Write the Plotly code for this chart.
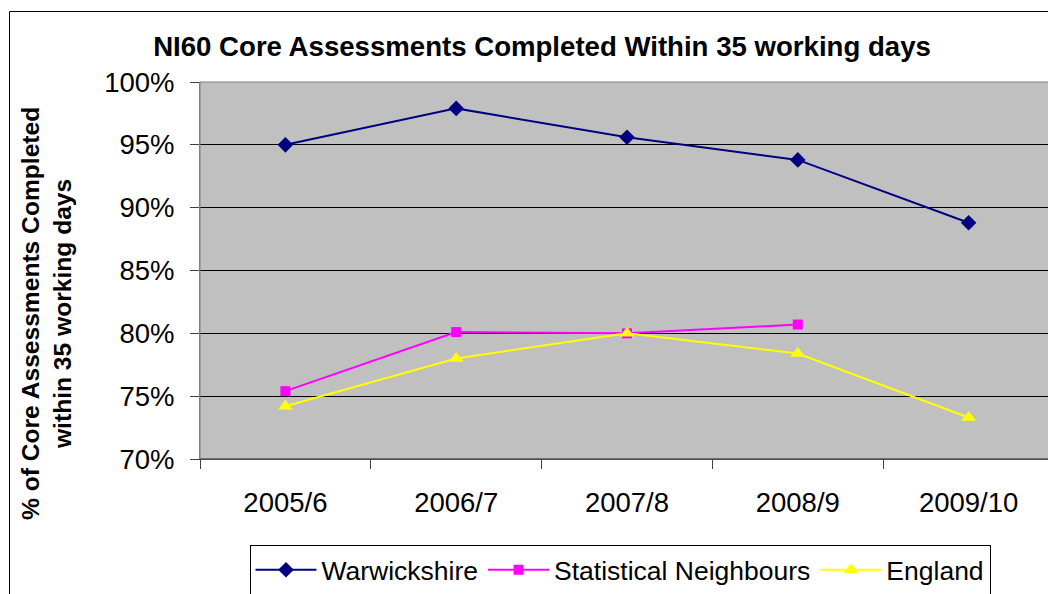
import plotly.graph_objects as go

years = ["2005/6", "2006/7", "2007/8", "2008/9", "2009/10"]
warwickshire = [95.0, 97.9, 95.6, 93.8, 88.8]
stat_neighbours = [75.4, 80.1, 80.0, 80.7, None]
england = [74.2, 78.0, 80.0, 78.4, 73.3]
y_ticks = [70, 75, 80, 85, 90, 95, 100]
y_tick_text = [f"{v}%" for v in y_ticks]

FONT = "Liberation Sans, Arial, sans-serif"

fig = go.Figure()
fig.add_trace(go.Scatter(
    x=years, y=warwickshire, name="Warwickshire", mode="lines+markers",
    line=dict(color="#000080", width=2),
    marker=dict(symbol="diamond", size=12, color="#000080")))
fig.add_trace(go.Scatter(
    x=years, y=stat_neighbours, name="Statistical Neighbours", mode="lines+markers",
    line=dict(color="#FF00FF", width=2),
    marker=dict(symbol="square", size=10, color="#FF00FF")))
fig.add_trace(go.Scatter(
    x=years, y=england, name="England", mode="lines+markers",
    line=dict(color="#FFFF00", width=2),
    marker=dict(symbol="triangle-up", size=13, color="#FFFF00")))

OFF = 8  # page body margin
W, H = 1056 - OFF, 594 - OFF
L, T = 200 - OFF, 82 - OFF
R = W - (1054 - OFF)
B = H - (459 - OFF)
pw, ph = W - L - R, H - T - B

def px_x(x):
    return (x - OFF - L) / pw

def px_y(y):
    return (H - B - (y - OFF)) / ph

fig.update_layout(
    width=W, height=H,
    margin=dict(l=L, r=R, t=T, b=B, autoexpand=False),
    paper_bgcolor="white",
    plot_bgcolor="#C0C0C0",
    font=dict(family=FONT, size=26, color="black"),
    title=dict(text="<b>NI60 Core Assessments Completed Within 35 working days</b>",
               font=dict(size=27.6, family=FONT, color="black"),
               xref="paper", x=px_x(542), xanchor="center",
               yref="container", y=1 - (46 - OFF) / H, yanchor="middle"),
    showlegend=True,
    legend=dict(orientation="h", xref="paper", yref="paper",
                x=px_x(620), xanchor="center", y=px_y(545), yanchor="top",
                bordercolor="black", borderwidth=1, bgcolor="white",
                font=dict(size=26.5, family=FONT), itemwidth=61,
                tracegroupgap=0),
    xaxis=dict(type="category", range=[-0.5, 4.5], automargin=False,
               tickson="boundaries", ticks="outside",
               ticklen=9, tickcolor="#404040", tickwidth=1,
               showline=True, linecolor="#404040", linewidth=1,
               showgrid=False, ticklabelstandoff=19,
               tickfont=dict(size=27.5, family=FONT)),
    yaxis=dict(range=[70, 100], tickmode="array", tickvals=y_ticks,
               ticktext=y_tick_text, automargin=False,
               ticks="outside", ticklen=9, tickcolor="#404040",
               showline=True, linecolor="#808080", linewidth=1,
               showgrid=True, gridcolor="#000000", gridwidth=1,
               zeroline=False, ticklabelstandoff=10,
               tickfont=dict(size=27.5, family=FONT)),
)

# y axis title as annotation (two lines, rotated)
fig.add_annotation(
    text="<b>% of Core Assessments Completed<br>within 35 working days</b>",
    xref="paper", yref="paper", x=px_x(46), y=px_y(314),
    textangle=-90, showarrow=False, xanchor="center", yanchor="middle",
    font=dict(size=24.6, family=FONT, color="black"))

# plot area border (gray) on top of the 100% gridline
fig.add_shape(type="rect", xref="paper", yref="paper", x0=0, x1=1, y0=0, y1=1,
              line=dict(color="#808080", width=1), layer="above")
fig.add_shape(type="line", xref="paper", yref="paper", x0=0, x1=1, y0=0, y1=0,
              line=dict(color="#404040", width=1), layer="above")

# outer chart border
fig.add_shape(type="rect", xref="paper", yref="paper",
              x0=px_x(9.5), x1=px_x(1070), y0=px_y(610), y1=px_y(11.5),
              line=dict(color="black", width=1), layer="below")

fig.write_html("out.html")
